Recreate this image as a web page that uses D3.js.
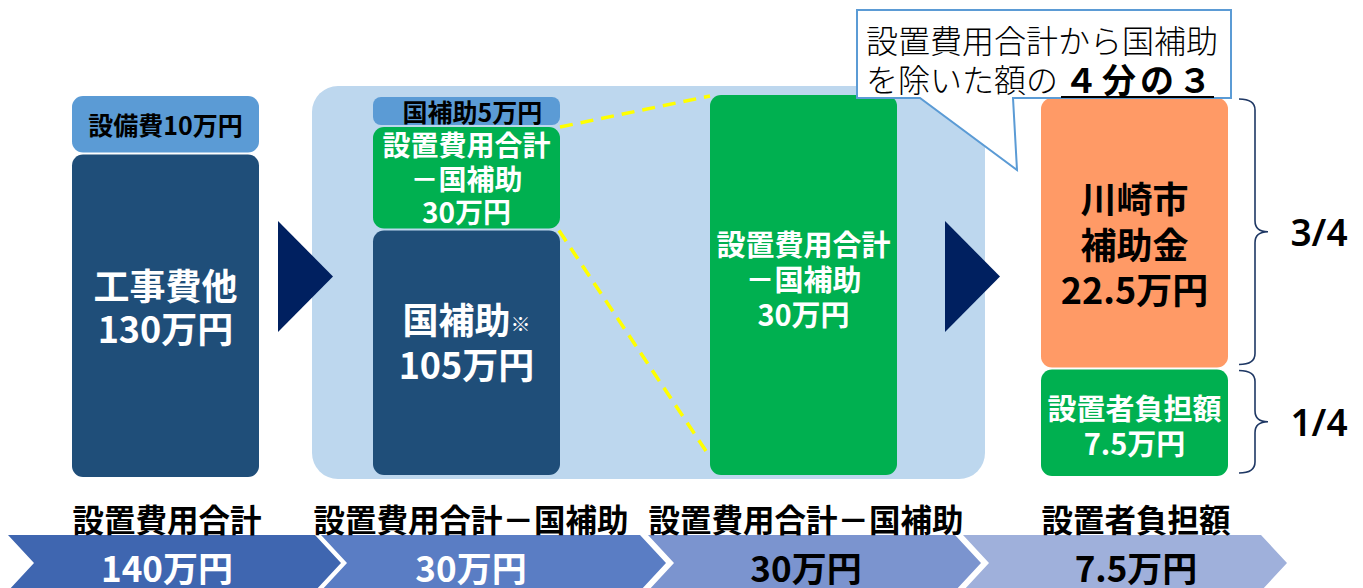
<!DOCTYPE html>
<html lang="ja">
<head>
<meta charset="utf-8">
<script src="https://cdn.jsdelivr.net/npm/d3@7"></script>
<style>
  html, body { margin: 0; padding: 0; background: #ffffff; }
  svg { display: block; }
  text { font-family: "Noto Sans CJK JP", "Noto Sans", sans-serif; }
</style>
</head>
<body>
<svg id="chart" width="1363" height="588"></svg>
<script>
// ---- data ----
const stages = ["設置費用合計", "設置費用合計－国補助", "設置費用合計－国補助", "設置者負担額"];
const stageTotals = [140, 30, 30, 7.5];
const boxNames = [
  ["設備費", "工事費他"],
  ["国補助", "設置費用合計\n－国補助", "国補助"],
  ["設置費用合計\n－国補助"],
  ["川崎市\n補助金", "設置者負担額"]
];
const boxValues = [
  [10, 130],
  [5, 30, 105],
  [30],
  [22.5, 7.5]
];
const shareLabels = ["3/4", "1/4"];
const calloutLine1 = "設置費用合計から国補助";
const calloutLine2 = "を除いた額の";
const calloutEmphasis = "４分の３";
const unit = "万円";

// ---- layout & style ----
const W = 1363, H = 588;
const svg = d3.select("#chart");
svg.append("rect").attr("width", W).attr("height", H).attr("fill", "#ffffff");

const colX = d3.scaleOrdinal().domain(d3.range(stages.length)).range([72, 373, 710, 1041]);
const boxW = 187;
// pixel break points of each column's stack (polylinear scales)
const colBreaks = [[96, 153.5, 477], [97, 126, 229.5, 475], [95, 475], [98, 368.5, 476]];
const gap = 2;

const C = {
  navy: "#1f4e79", lightBlue: "#5b9bd5", green: "#00b050",
  orange: "#ff9a66", panel: "#bdd7ee", arrow: "#002060", brace: "#1f3864"
};

const boxStyles = [
  [ {fill: C.lightBlue, color: "#000", size: 25, inline: true, lh: 0, dy: 0, dx: 0},
    {fill: C.navy, color: "#fff", size: 36, inline: false, lh: 43, dy: -10, dx: 0} ],
  [ {fill: C.lightBlue, color: "#000", size: 25, inline: true, lh: 0, dy: 0, dx: 6},
    {fill: C.green, color: "#fff", size: 28, inline: false, lh: 33.5, dy: 0, dx: 0},
    {fill: C.navy, color: "#fff", size: 36, inline: false, lh: 45, dy: -12, dx: 0, mark: "※"} ],
  [ {fill: C.green, color: "#fff", size: 29, inline: false, lh: 35, dy: -7, dx: 0} ],
  [ {fill: C.orange, color: "#000", size: 36, inline: false, lh: 45.5, dy: 10, dx: 0},
    {fill: C.green, color: "#fff", size: 29, inline: false, lh: 35, dy: 2, dx: 0} ]
];

// y scales: cumulative value (from the top of the stack) -> pixel
const yScales = boxValues.map((vals, ci) => {
  const cum = [0];
  vals.forEach(v => cum.push(cum[cum.length - 1] + v));
  return d3.scaleLinear().domain(cum).range(colBreaks[ci]);
});

// ---- background panel for the middle stages ----
svg.append("rect")
  .attr("x", 312).attr("y", 86).attr("width", 985 - 312).attr("height", 479 - 86)
  .attr("rx", 26).attr("fill", C.panel);

// ---- boxes ----
const boxes = [];
boxValues.forEach((vals, ci) => {
  let acc = 0;
  vals.forEach((v, bi) => {
    const y0 = yScales[ci](acc), y1 = yScales[ci](acc + v);
    const top = bi === 0 ? y0 : y0 + gap / 2;
    const bot = bi === vals.length - 1 ? y1 : y1 - gap / 2;
    boxes.push({ci, bi, value: v, name: boxNames[ci][bi], style: boxStyles[ci][bi],
      x: colX(ci), y: top, w: boxW, h: bot - top});
    acc += v;
  });
});

const fmt = v => d3.format("~g")(v) + unit;

// yellow dashed connectors from the remaining amount to the next stage
const src = boxes.find(b => b.ci === 1 && b.bi === 1);
const dst = boxes.find(b => b.ci === 2 && b.bi === 0);
svg.append("g").selectAll("line")
  .data([[src.x + src.w, src.y, dst.x, dst.y + 1], [src.x + src.w - 1, src.y + src.h + 2, dst.x, dst.y + dst.h - 18]])
  .join("line")
  .attr("x1", d => d[0]).attr("y1", d => d[1]).attr("x2", d => d[2]).attr("y2", d => d[3])
  .attr("stroke", "#ffff00").attr("stroke-width", 3.5).attr("stroke-dasharray", "13,8");

const gBoxes = svg.append("g").selectAll("g").data(boxes).join("g");
gBoxes.append("rect")
  .attr("x", d => d.x).attr("y", d => d.y).attr("width", d => d.w).attr("height", d => d.h)
  .attr("rx", d => d.h < 40 ? 8 : 11).attr("fill", d => d.style.fill);

gBoxes.each(function(d) {
  const g = d3.select(this);
  const s = d.style;
  const cx = d.x + d.w / 2 + s.dx;
  const cy = d.y + d.h / 2 + s.dy;
  const lines = s.inline ? [d.name + fmt(d.value)] : d.name.split("\n").concat([fmt(d.value)]);
  const n = lines.length;
  lines.forEach((ln, i) => {
    const t = g.append("text")
      .attr("x", cx).attr("y", cy + (i - (n - 1) / 2) * s.lh)
      .attr("text-anchor", "middle").attr("dominant-baseline", "central")
      .attr("font-size", s.size).attr("font-weight", 700).attr("fill", s.color);
    t.append("tspan").text(ln);
    if (s.mark && i === 0) {
      t.append("tspan").attr("font-size", 20).attr("font-weight", 400).attr("dy", 5).text(s.mark);
    }
  });
});

// ---- flow arrows ----
svg.append("g").selectAll("path")
  .data([[278, 221, 333, 332], [945, 221, 1000, 332]])
  .join("path")
  .attr("d", d => `M${d[0]},${d[1]}L${d[2]},${(d[1] + d[3]) / 2}L${d[0]},${d[3]}Z`)
  .attr("fill", C.arrow);

// ---- braces with share labels for the last stage ----
const lastBoxes = boxes.filter(b => b.ci === 3);
const braceX = 1239, spineX = 1255, tipX = 1268, r = 11;
const braceG = svg.append("g").selectAll("g").data(lastBoxes).join("g");
braceG.append("path")
  .attr("d", b => {
    const y0 = b.y + 1, y1 = b.y + b.h - 3, ym = (y0 + y1) / 2;
    return `M${braceX},${y0} Q${spineX},${y0} ${spineX},${y0 + r} L${spineX},${ym - r} Q${spineX},${ym} ${tipX},${ym}` +
      ` Q${spineX},${ym} ${spineX},${ym + r} L${spineX},${y1 - r} Q${spineX},${y1} ${braceX},${y1}`;
  })
  .attr("fill", "none").attr("stroke", C.brace).attr("stroke-width", 1.6);
braceG.append("text")
  .attr("x", 1319).attr("y", b => (b.y + b.y + b.h - 2) / 2)
  .attr("text-anchor", "middle").attr("dominant-baseline", "central")
  .style("font-family", "'Noto Sans', 'Noto Sans CJK JP', sans-serif")
  .attr("font-size", 37).attr("font-weight", 600).attr("fill", "#000")
  .text((b, i) => shareLabels[i]);

// ---- callout ----
const callout = svg.append("g");
callout.append("path")
  .attr("d", "M857,10 L1231,10 L1231,98 L1013,98 L1017,170 L920,98 L857,98 Z")
  .attr("fill", "#ffffff").attr("stroke", C.lightBlue).attr("stroke-width", 2).attr("stroke-linejoin", "miter");
callout.append("text")
  .attr("x", 866).attr("y", 39).attr("dominant-baseline", "central")
  .attr("font-size", 32).attr("font-weight", 300).attr("fill", "#000")
  .text(calloutLine1);
const l2 = callout.append("text")
  .attr("x", 866).attr("y", 78).attr("dominant-baseline", "central")
  .attr("font-size", 32).attr("font-weight", 300).attr("fill", "#000");
l2.append("tspan").text(calloutLine2);
const emph = l2.append("tspan").attr("dx", 6).attr("font-size", 34).attr("font-weight", 700)
  .attr("letter-spacing", 4).text(calloutEmphasis);
// underline beneath the emphasised fraction
const emNode = emph.node();
const ex0 = emNode.getStartPositionOfChar(0).x;
const nChars = calloutEmphasis.length;
const ex1 = emNode.getEndPositionOfChar(nChars - 1).x;
callout.append("line")
  .attr("x1", ex0 - 3).attr("x2", ex1 - 2).attr("y1", 97).attr("y2", 97)
  .attr("stroke", "#000").attr("stroke-width", 2);

// ---- stage band at the bottom ----
const bandTop = 535, bandBot = 591, notch = 26;
const chevX = d3.scaleOrdinal().domain(d3.range(stages.length)).range([[8, 315], [321, 640], [648, 955], [963, 1261]]);
const chevFill = ["#3f66b0", "#5a7dc4", "#7b94cf", "#9fb0db"];
const chevText = ["#ffffff", "#ffffff", "#000000", "#000000"];
const labelCx = [167, 471, 806, 1136];
const bandMid = (bandTop + bandBot) / 2;
const band = svg.append("g").selectAll("g").data(stages).join("g");
band.append("path")
  .attr("d", (s, i) => {
    const [a, b] = chevX(i);
    return `M${a},${bandTop}L${b},${bandTop}L${b + notch},${bandMid}L${b},${bandBot}L${a},${bandBot}L${a + notch},${bandMid}Z`;
  })
  .attr("fill", (s, i) => chevFill[i]);
band.append("text")
  .attr("x", (s, i) => labelCx[i]).attr("y", 518)
  .attr("text-anchor", "middle").attr("dominant-baseline", "central")
  .attr("font-size", 31.5).attr("font-weight", 700).attr("fill", "#000")
  .text(s => s);
band.append("text")
  .attr("x", (s, i) => labelCx[i]).attr("y", 566)
  .attr("text-anchor", "middle").attr("dominant-baseline", "central")
  .attr("font-size", 35).attr("font-weight", 700).attr("fill", (s, i) => chevText[i])
  .text((s, i) => fmt(stageTotals[i]));
</script>
</body>
</html>
